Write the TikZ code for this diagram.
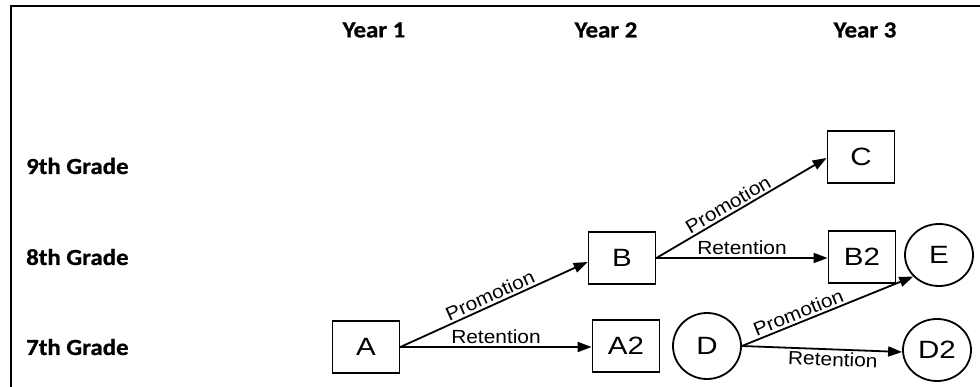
\documentclass[tikz,border=0pt]{standalone}
\usepackage{fontspec}
\setmainfont{Liberation Sans}[FakeStretch=1.1]
\newfontfamily\nodefont{Liberation Sans}[FakeStretch=1.18]
\newfontfamily\hdfont{Carlito}[FakeStretch=1.08, BoldFeatures={FakeBold=0.8}]
\usetikzlibrary{arrows.meta,shapes.geometric}
\begin{document}
\begin{tikzpicture}[x=1pt,y=-1pt,
  hd/.style={font=\hdfont\bfseries\fontsize{23}{25}\selectfont, inner sep=0pt},
  rowlab/.style={hd, anchor=west},
  sq/.style={draw, line width=1.8pt, minimum width=67pt, minimum height=52pt, inner sep=0pt, font=\nodefont\fontsize{25}{27}\selectfont},
  rnd/.style={draw, ellipse, line width=1.8pt, minimum width=68pt, minimum height=64pt, inner sep=0pt, font=\nodefont\fontsize{25}{27}\selectfont},
  arr/.style={line width=1.8pt, -{Triangle[length=14pt,width=10pt]}},
  lab/.style={font=\fontsize{19}{21}\selectfont, inner sep=2pt, sloped}
]
\useasboundingbox (0,0) rectangle (980,387);
\draw[line width=2pt] (11,387) -- (11,6) -- (980,6);

\node[hd] (y1) at (374,30) {Year 1};
\node[hd] (y2) at (606,30) {Year 2};
\node[hd] (y3) at (865,30) {Year 3};

\node[rowlab] (g9) at (26,166) {9th Grade};
\node[rowlab] (g8) at (26,257) {8th Grade};
\node[rowlab] (g7) at (26,347) {7th Grade};

\node[sq] (A) at (366,347) {A};
\node[sq] (A2) at (626,346) {A2};
\node[sq] (B) at (622,258) {B};
\node[sq] (C) at (861,157) {C};
\node[sq] (B2) at (862,257) {B2};
\node[rnd, minimum height=62pt] (E) at (939,255) {E};
\node[rnd, minimum height=66pt] (D) at (707,346) {D};
\node[rnd, minimum height=62pt] (D2) at (937,350) {D2};

\draw[arr] (A.east) -- (B.west |- 0,262) node[lab, midway, above] {Promotion};
\draw[arr] (A.east) -- (A2.west |- A.east) node[lab, midway, above] {Retention};
\draw[arr] (B.east) -- (C.west |- 0,158) node[lab, pos=0.45, above] {Promotion};
\draw[arr] (B.east) -- (B2.west |- B.east) node[lab, midway, above] {Retention};
\draw[arr] (D.east) -- (E.-140) node[lab, pos=0.35, above] {Promotion};
\draw[arr] (D.east) -- ([yshift=-2pt]D2.west) node[lab, pos=0.57, below] {Retention};
\end{tikzpicture}
\end{document}
